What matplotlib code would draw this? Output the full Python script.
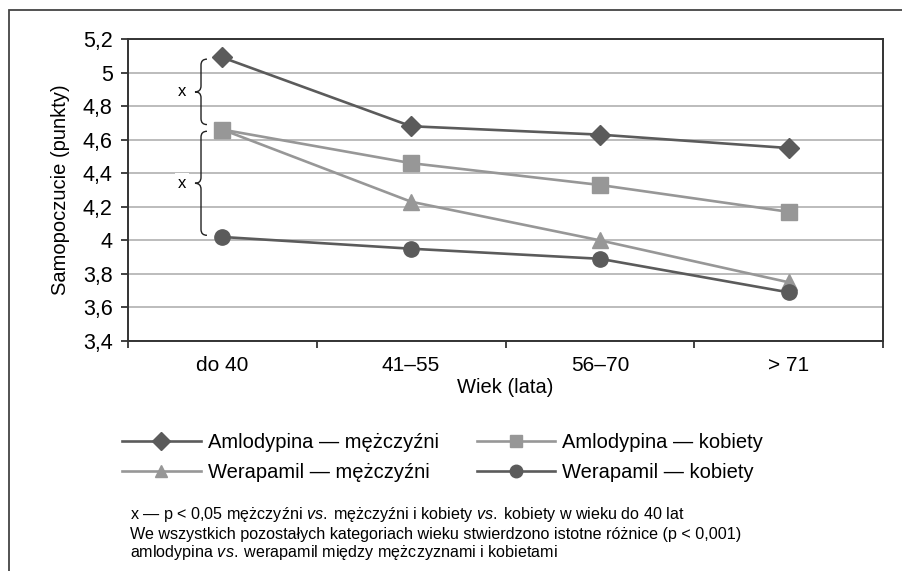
import matplotlib
matplotlib.use('Agg')
import matplotlib.pyplot as plt
from matplotlib.path import Path
from matplotlib.patches import PathPatch, Rectangle
from matplotlib.lines import Line2D
from matplotlib.transforms import blended_transform_factory

plt.rcParams['font.family'] = ['Liberation Sans', 'DejaVu Sans']
plt.rcParams['mathtext.fontset'] = 'custom'
plt.rcParams['mathtext.rm'] = 'Liberation Sans'
plt.rcParams['mathtext.it'] = 'Liberation Sans:italic'

# ─── dane ────────────────────────────────────────────────────────────────────
groups = ['do 40', '41–55', '56–70', '> 71']
amlo_m = [5.09, 4.68, 4.63, 4.55]
amlo_k = [4.66, 4.46, 4.33, 4.17]
wera_m = [4.66, 4.23, 4.00, 3.75]
wera_k = [4.02, 3.95, 3.89, 3.69]
y_ticks = [3.4, 3.6, 3.8, 4.0, 4.2, 4.4, 4.6, 4.8, 5.0, 5.2]
y_labels = ['3,4', '3,6', '3,8', '4', '4,2', '4,4', '4,6', '4,8', '5', '5,2']

DARK = '#5b5b5b'
LIGHT = '#979797'

fig = plt.figure(figsize=(9.02, 5.71), dpi=100)
# zewnętrzna ramka
fig.patches.append(Rectangle((9 / 902, -0.05), 1.0, 1 - 10 / 571 + 0.05,
                             transform=fig.transFigure, fill=False,
                             edgecolor='#444444', linewidth=1.3))

ax = fig.add_axes([128 / 902, 230 / 571, 755 / 902, 302 / 571])
x = list(range(len(groups)))

ax.plot(x, amlo_m, '-D', color=DARK, lw=1.9, ms=10, label='Amlodypina — mężczyźni', zorder=4)
ax.plot(x, amlo_k, '-s', color=LIGHT, lw=1.9, ms=11, label='Amlodypina — kobiety', zorder=3)
ax.plot(x, wera_m, '-^', color=LIGHT, lw=1.9, ms=11, label='Werapamil — mężczyźni', zorder=3)
ax.plot(x, wera_k, '-o', color=DARK, lw=1.9, ms=11, label='Werapamil — kobiety', zorder=4)

ax.set_xlim(-0.5, len(groups) - 0.5)
ax.set_ylim(3.4, 5.2)
ax.set_yticks(y_ticks)
ax.set_yticklabels(y_labels, fontsize=15.5)
ax.yaxis.grid(True, color='#b0b0b0', lw=1.2)
ax.set_axisbelow(True)

ax.set_xticks([i - 0.5 for i in range(len(groups) + 1)])
ax.set_xticklabels([])
ax.set_xticks(x, minor=True)
ax.set_xticklabels(groups, minor=True, fontsize=15)
ax.tick_params(axis='x', which='major', direction='out', length=5, width=1.3, color='#333333')
ax.tick_params(axis='x', which='minor', length=0, pad=11)
ax.tick_params(axis='y', direction='out', length=5, width=1.3, color='#333333', pad=6)

for s in ax.spines.values():
    s.set_color('#333333')
    s.set_linewidth(1.4)

ax.set_xlabel('Wiek (lata)', fontsize=14.5, labelpad=2)
ax.set_ylabel('Samopoczucie (punkty)', fontsize=14.5, labelpad=9)


# ─── klamry z oznaczeniem istotności ────────────────────────────────────────
def brace(ax, top, bot, label):
    tr = blended_transform_factory(ax.transAxes, ax.transData)
    xm, xr, xt = 0.0967, 0.1046, 0.0887
    r = 0.035
    mid = (top + bot) / 2
    verts = [(xr, top), (xm, top), (xm, top - r),
             (xm, mid + r), (xm, mid), (xt, mid),
             (xm, mid), (xm, mid - r),
             (xm, bot + r), (xm, bot), (xr, bot)]
    codes = [Path.MOVETO, Path.CURVE3, Path.CURVE3,
             Path.LINETO, Path.CURVE3, Path.CURVE3,
             Path.CURVE3, Path.CURVE3,
             Path.LINETO, Path.CURVE3, Path.CURVE3]
    ax.add_patch(PathPatch(Path(verts, codes), transform=tr, fill=False,
                           edgecolor='#222222', lw=1.0, zorder=5))
    ax.text(0.0715, mid, label, transform=tr, ha='center', va='center', fontsize=12,
            bbox=dict(facecolor='white', edgecolor='none', pad=2), zorder=5)


brace(ax, amlo_m[0] - 0.01, amlo_k[0] + 0.03, 'x')
brace(ax, amlo_k[0] - 0.01, wera_k[0] + 0.01, 'x')

# ─── legenda ────────────────────────────────────────────────────────────────
handles, labels = ax.get_legend_handles_labels()
leg_handles = [Line2D([], [], color=h.get_color(), marker=h.get_marker(), lw=1.9, ms=9)
               for h in handles]
order = [0, 2, 1, 3]
fig.legend([leg_handles[i] for i in order], [labels[i] for i in order],
           loc='upper left', bbox_to_anchor=(122 / 902, 1 - 433 / 571), ncol=2,
           frameon=False, fontsize=14.5, handlelength=3.9, handletextpad=0.35,
           columnspacing=1.9, labelspacing=0.55, borderpad=0, borderaxespad=0)

# ─── przypisy ───────────────────────────────────────────────────────────────
notes = [
    r'x — p < 0,05 mężczyźni $\mathit{vs.}\;$mężczyźni i kobiety $\mathit{vs.}\;$kobiety w wieku do 40 lat',
    'We wszystkich pozostałych kategoriach wieku stwierdzono istotne różnice (p < 0,001)',
    r'amlodypina $\mathit{vs.}\;$werapamil między mężczyznami i kobietami',
]
for i, t in enumerate(notes):
    fig.text(130 / 902, 1 - (515 + 19 * i) / 571, t, fontsize=11.6, va='center', ha='left')

fig.savefig('out.png', dpi=100)
